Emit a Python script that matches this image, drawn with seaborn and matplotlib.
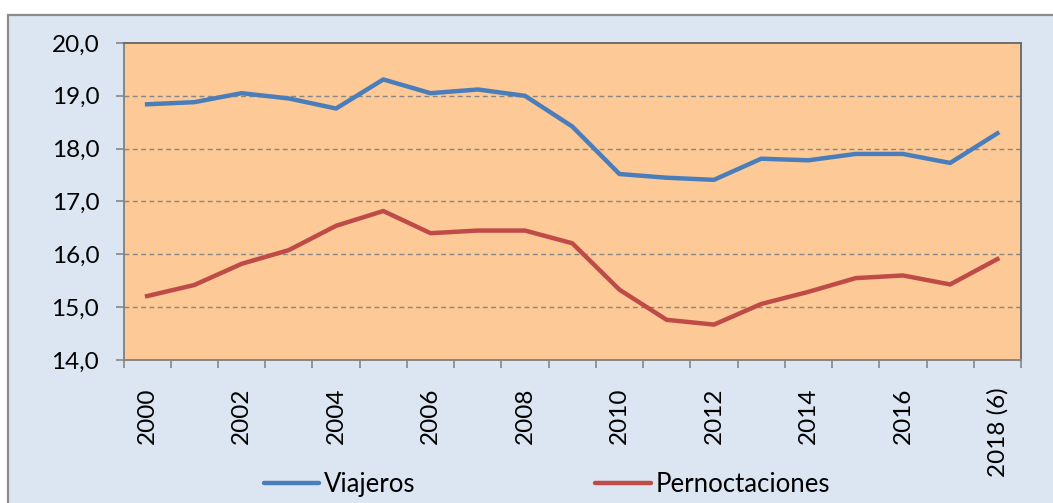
import matplotlib
matplotlib.use("Agg")
import matplotlib.pyplot as plt
import seaborn as sns
import pandas as pd
import numpy as np
from matplotlib.patches import Rectangle
from matplotlib.ticker import FuncFormatter, FixedLocator
from matplotlib.lines import Line2D

years = ["2000", "2001", "2002", "2003", "2004", "2005", "2006", "2007", "2008", "2009",
         "2010", "2011", "2012", "2013", "2014", "2015", "2016", "2017", "2018 (6)"]
viajeros = [18.84, 18.88, 19.05, 18.95, 18.76, 19.31, 19.05, 19.12, 19.00, 18.42,
            17.52, 17.45, 17.41, 17.81, 17.78, 17.90, 17.90, 17.73, 18.29]
pernoctaciones = [15.21, 15.42, 15.82, 16.08, 16.54, 16.82, 16.40, 16.45, 16.45, 16.21,
                  15.33, 14.76, 14.67, 15.06, 15.29, 15.55, 15.60, 15.43, 15.91]
series_names = ["Viajeros", "Pernoctaciones"]
colors = ["#4A7EBB", "#BE4B48"]

plt.rcParams['font.family'] = ['Lato', 'DejaVu Sans']

n = len(years)
df = pd.DataFrame({
    "idx": list(range(n)) * 2,
    "valor": viajeros + pernoctaciones,
    "serie": [series_names[0]] * n + [series_names[1]] * n,
})

fig = plt.figure(figsize=(10.53, 5.03), dpi=100)
fig.patch.set_facecolor("white")

# outer chart panel
panel = Rectangle((8 / 1053, -0.05), 1.1, 0.05 + (503 - 15) / 503,
                  transform=fig.transFigure, facecolor="#DCE6F2",
                  edgecolor="#8C8C8C", linewidth=1.6, zorder=-10)
fig.patches.append(panel)

ax = fig.add_axes([123.5 / 1053, (503 - 360) / 503, (1021 - 123.5) / 1053, (360 - 43) / 503])
ax.set_zorder(1)
ax.set_facecolor("#FDC996")

sns.lineplot(data=df, x="idx", y="valor", hue="serie", palette=colors,
             hue_order=series_names, linewidth=3.2, ax=ax, legend=False)

ax.set_xlim(-0.5, n - 0.5)
ax.set_ylim(14, 20)
ax.set_xlabel("")
ax.set_ylabel("")

# grid
for yv in [15, 16, 17, 18, 19]:
    ax.axhline(yv, color="#868686", linewidth=1.0, linestyle=(0, (3.5, 2.5)), zorder=1)
for line in ax.lines[:2]:
    line.set_zorder(3)

# y axis
ax.set_yticks([14, 15, 16, 17, 18, 19, 20])
ax.yaxis.set_major_formatter(FuncFormatter(lambda v, p: f"{v:.1f}".replace(".", ",")))
ax.tick_params(axis="y", which="major", length=5.5, width=1.2, color="#868686",
               pad=12, labelsize=17.5, labelcolor="black")

# x axis: ticks at category boundaries, labels at centers
ax.xaxis.set_major_locator(FixedLocator(np.arange(-0.5, n, 1.0)))
ax.xaxis.set_major_formatter(FuncFormatter(lambda v, p: ""))
label_pos = list(range(0, n, 2))
ax.xaxis.set_minor_locator(FixedLocator(label_pos))
ax.set_xticklabels([years[i] for i in label_pos], minor=True, rotation=90)
ax.tick_params(axis="x", which="major", length=5.5, width=1.2, color="#868686")
ax.tick_params(axis="x", which="minor", length=0, pad=20, labelsize=17.5, labelcolor="black")
for lbl in ax.get_xticklabels(minor=True):
    lbl.set_verticalalignment("top")
    lbl.set_horizontalalignment("center")

for side, sp in ax.spines.items():
    sp.set_color("#868686")
    sp.set_linewidth(1.4)
ax.spines["top"].set_color("#6E6E6E")
ax.spines["right"].set_color("#6E6E6E")

# legend
handles = [Line2D([0], [0], color=c, linewidth=3.2, solid_capstyle="round") for c in colors]
fig.legend(handles, series_names, loc="center", bbox_to_anchor=(0.5195, 0.036),
           ncol=2, frameon=False, fontsize=18.5, handlelength=2.15, handletextpad=0.2,
           columnspacing=7.0)

fig.savefig("out.png", dpi=100, facecolor=fig.get_facecolor())
